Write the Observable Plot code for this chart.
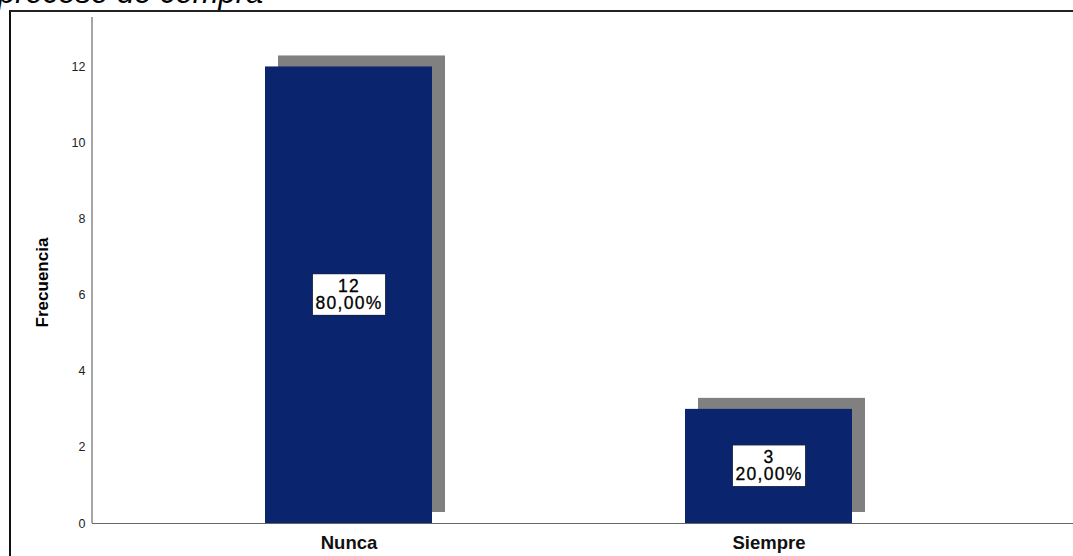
<!DOCTYPE html>
<html>
<head>
<meta charset="utf-8">
<script src="https://cdn.jsdelivr.net/npm/d3@7"></script>
<script src="https://cdn.jsdelivr.net/npm/@observablehq/plot@0.6"></script>
<style>
  html, body { margin: 0; padding: 0; background: #fff; width: 1073px; height: 556px; overflow: hidden; }
  #frame { position: absolute; left: 9px; top: 10px; width: 2000px; height: 1000px;
           border-left: 2px solid #111; border-top: 2px solid #222; box-sizing: border-box; }
  #title { position: absolute; left: 0; top: 0; }
  #chart { position: absolute; left: 0; top: 0; }
</style>
</head>
<body>
<div id="frame"></div>
<svg id="title" width="1073" height="12"><text x="-2" y="3" font-family="Liberation Sans, Arial, sans-serif" font-style="italic" font-size="31" fill="#000">proceso de compra</text></svg>
<div id="chart"></div>
<script>
const categories = ["Nunca", "Siempre"];
const counts = [12, 3];
const yTicks = [0, 2, 4, 6, 8, 10, 12];
const yLabel = "Frecuencia";

const total = d3.sum(counts);
const data = categories.map((c, i) => ({
  category: c,
  count: counts[i],
  label: counts[i] + "\n" + (counts[i] / total * 100).toFixed(2).replace(".", ",") + "%"
}));

const blue = "#0a246e";
const grey = "#808080";

const plot = Plot.plot({
  width: 1073,
  height: 556,
  marginLeft: 92,
  marginRight: 0,
  marginTop: 17,
  marginBottom: 33,
  style: { fontFamily: "Liberation Sans, Arial, sans-serif", background: "transparent", overflow: "visible" },
  x: { domain: categories, paddingInner: 0.6024, paddingOuter: 0.4689, align: 0.439, label: null },
  y: { domain: [0, 13.3], label: null },
  marks: [
    Plot.barY(data, { x: "category", y: "count", fill: grey, dx: 13, dy: -11 }),
    Plot.barY(data, { x: "category", y: "count", fill: blue }),
    Plot.ruleY([0], { stroke: "#666", strokeWidth: 1.2 }),
    Plot.axisY(yTicks, { tickSize: 0, tickPadding: 7, fontSize: 12.5, fill: "#222", label: null }),
    Plot.axisX({ tickSize: 0, tickPadding: 12, fontSize: 18.5, fontWeight: "bold", fill: "#111", label: null }),
    Plot.text([yLabel], { frameAnchor: "left", textAnchor: "middle", rotate: -90, dx: -50, dy: 12, fontSize: 17, fontWeight: "bold", fill: "#000" }),
    Plot.text(data, { x: "category", y: d => d.count / 2, text: "label", fontSize: 17.5, lineHeight: 0.95, fill: "#000", stroke: "#000", strokeWidth: 0.3, ariaLabel: () => "data-label" })
  ]
});

document.getElementById("chart").appendChild(plot);

const ys = plot.scale("y");
const svg = d3.select(plot.tagName.toLowerCase() === "svg" ? plot : plot.querySelector("svg"));
svg.append("line")
  .attr("x1", 92).attr("x2", 92)
  .attr("y1", ys.range[1]).attr("y2", ys.range[0])
  .attr("stroke", "#888").attr("stroke-width", 1.5);

// white boxes behind the value labels
const labels = svg.selectAll('text[aria-label="data-label"]');
labels.attr("letter-spacing", "1.3px");
labels.each(function () {
  const b = this.getBBox();
  const padX = 2.5, padY = 2;
  d3.select(this.parentNode).insert("rect", () => this)
    .attr("x", b.x - padX).attr("y", b.y - padY)
    .attr("width", b.width + 2 * padX).attr("height", b.height + 2 * padY)
    .attr("transform", this.getAttribute("transform"))
    .attr("fill", "#fff").attr("stroke", "#222").attr("stroke-width", 1);
});
</script>
</body>
</html>
